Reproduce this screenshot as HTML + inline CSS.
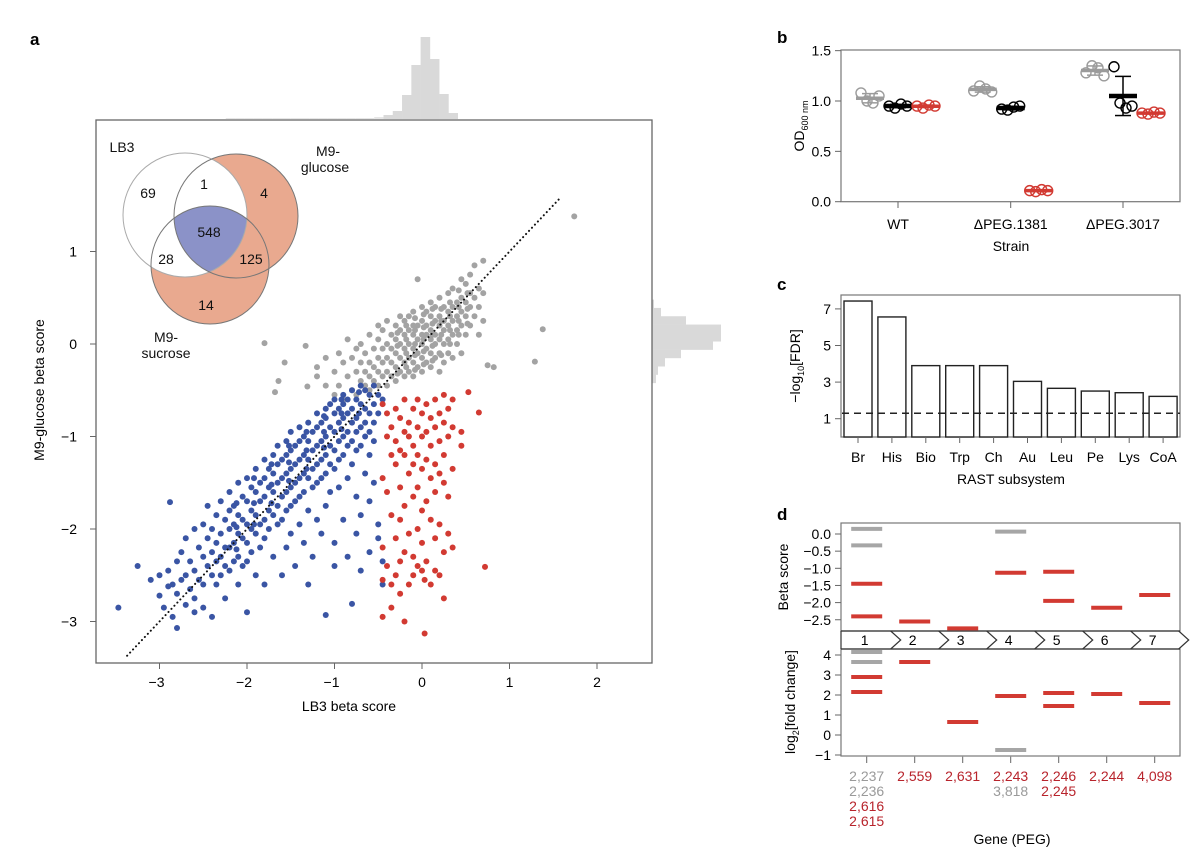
<!DOCTYPE html>
<html><head><meta charset="utf-8"><style>
html,body{margin:0;padding:0;background:#fff;}
svg{display:block;font-family:"Liberation Sans",Arial,sans-serif;}
</style></head><body>
<svg id="fig" width="1200" height="865" viewBox="0 0 1200 865" xmlns="http://www.w3.org/2000/svg">
<defs>
<clipPath id="clipLB"><circle cx="185" cy="215" r="62"/></clipPath>
<clipPath id="clipGl"><circle cx="236" cy="216" r="62"/></clipPath>
<clipPath id="clipFrame"><rect x="96" y="120" width="556" height="543"/></clipPath>
</defs>
<rect x="0" y="0" width="1200" height="865" fill="#fff"/>
<!-- Panel a -->
<text x="30" y="45" font-size="17" font-weight="bold">a</text>
<g id="topHist"></g>
<g id="rightHist"></g>
<rect x="96" y="120" width="556" height="543" fill="none" stroke="#666" stroke-width="1.3"/>
<g id="mainAxes"></g>
<g>
<circle cx="236" cy="216" r="62" fill="#e9a98f"/>
<circle cx="210" cy="265" r="59" fill="#e9a98f"/>
<circle cx="185" cy="215" r="62" fill="#fff"/>
<g clip-path="url(#clipGl)"><circle cx="210" cy="265" r="59" fill="#8b92c8" clip-path="url(#clipLB)"/></g>
<circle cx="185" cy="215" r="62" fill="none" stroke="#aaa" stroke-width="1"/>
<circle cx="236" cy="216" r="62" fill="none" stroke="#777" stroke-width="1"/>
<circle cx="210" cy="265" r="59" fill="none" stroke="#777" stroke-width="1"/>
<g font-size="14" fill="#111" text-anchor="middle">
<text x="122" y="152">LB3</text>
<text x="328" y="156">M9-</text>
<text x="325" y="172">glucose</text>
<text x="148" y="198">69</text>
<text x="204" y="189">1</text>
<text x="264" y="198">4</text>
<text x="209" y="237">548</text>
<text x="166" y="264">28</text>
<text x="251" y="264">125</text>
<text x="206" y="310">14</text>
<text x="166" y="342">M9-</text>
<text x="166" y="358">sucrose</text>
</g>
</g>
<g id="scatter"></g>
<text x="349" y="711" font-size="14" text-anchor="middle">LB3 beta score</text>
<text transform="translate(44,390) rotate(-90)" font-size="14" text-anchor="middle">M9-glucose beta score</text>

<!-- Panel b -->
<text x="777" y="43" font-size="17" font-weight="bold">b</text>
<rect x="841" y="50" width="339" height="151.7" fill="none" stroke="#777" stroke-width="1.2"/>
<g id="panelB"></g>
<text transform="translate(804,126) rotate(-90)" font-size="14" text-anchor="middle">OD<tspan font-size="9" dy="4">600 nm</tspan></text>
<text x="1011" y="251" font-size="14" text-anchor="middle">Strain</text>

<!-- Panel c -->
<text x="777" y="290" font-size="17" font-weight="bold">c</text>
<rect x="841" y="295" width="339" height="142" fill="none" stroke="#777" stroke-width="1.2"/>
<g id="panelC"></g>
<text transform="translate(800,366) rotate(-90)" font-size="14" text-anchor="middle">−log<tspan font-size="9" dy="4">10</tspan><tspan dy="-4">[FDR]</tspan></text>
<text x="1011" y="484" font-size="14" text-anchor="middle">RAST subsystem</text>

<!-- Panel d -->
<text x="777" y="520" font-size="17" font-weight="bold">d</text>
<rect x="841" y="523" width="339" height="108" fill="none" stroke="#777" stroke-width="1.2"/>
<rect x="841" y="649" width="339" height="107" fill="none" stroke="#777" stroke-width="1.2"/>
<g id="panelD"></g>
<text transform="translate(788,577) rotate(-90)" font-size="14" text-anchor="middle">Beta score</text>
<text transform="translate(795,702) rotate(-90)" font-size="14" text-anchor="middle">log<tspan font-size="9" dy="4">2</tspan><tspan dy="-4">[fold change]</tspan></text>
<text x="1012" y="844" font-size="14" text-anchor="middle">Gene (PEG)</text>
</svg>
<script>
// ---------- Panel a data ----------
const xTicks=[-3,-2,-1,0,1,2];
const yTicks=[1,0,-1,-2,-3];
const topHistStart=-0.44;
const topHistCounts=[4,8,24,54,82,60,25,6];
const topTailCounts=[1,1,1,1,1,1,1,1,1,1,1,1,1,1,1,1,2];
const rightHistStart=0.48;
const rightHistCounts=[2,9,34,69,69,61,29,13,6,4];
const grayCols=[[-1.8,[0.01]],[-1.68,[-0.52]],[-1.64,[-0.40]],[-1.57,[-0.20]],[-1.33,[-0.02]],[-1.31,[-0.46]],
[-1.2,[-0.25,-0.35]],[-1.1,[-0.45,-0.15]],[-1.0,[-0.55,-0.3]],[-0.95,[-0.1,-0.45]],[-0.9,[-0.2,-0.6]],[-0.85,[-0.35,0.05]],
[-0.8,[-0.5,-0.15]],[-0.75,[-0.3,-0.05,-0.55]],[-0.7,[-0.4,-0.2,0.0]],[-0.65,[-0.45,-0.3,-0.1]],[-0.6,[-0.5,-0.35,-0.2,0.1]],
[-0.55,[-0.4,-0.25,-0.05]],[-0.5,[-0.45,-0.3,-0.15,0.05,0.2]],[-0.45,[-0.35,-0.2,-0.05,0.15]],[-0.4,[-0.45,-0.3,-0.15,0.0,0.25]],
[-0.35,[-0.35,-0.2,-0.05,0.1]],[-0.3,[-0.4,-0.25,-0.1,0.05,0.2]],[-0.25,[-0.3,-0.15,0.0,0.15,0.3]],[-0.2,[-0.35,-0.2,-0.05,0.1,0.25]],
[-0.15,[-0.3,-0.15,0.0,0.15,0.3]],[-0.1,[-0.35,-0.2,-0.05,0.1,0.2,0.35]],[-0.05,[-0.25,-0.1,0.05,0.2,0.7]],[0.0,[-0.3,-0.15,0.0,0.1,0.25,0.4]],
[0.05,[-0.2,-0.05,0.1,0.2,0.35]],[0.1,[-0.25,-0.1,0.05,0.15,0.3,0.45]],[0.15,[-0.15,0.0,0.1,0.25,0.4]],[0.2,[-0.3,-0.1,0.05,0.2,0.3,0.5]],
[0.25,[-0.2,0.0,0.15,0.25,0.4]],[0.3,[-0.1,0.05,0.2,0.35,0.55]],[0.35,[-0.15,0.1,0.25,0.4,0.6]],[0.4,[0.0,0.15,0.3,0.45]],
[0.45,[-0.1,0.2,0.35,0.5,0.7]],[0.5,[0.1,0.3,0.45,0.65]],[0.55,[0.2,0.4,0.55,0.75]],[0.6,[0.3,0.5,0.85]],[0.65,[0.1,0.4,0.6]],
[0.7,[0.25,0.55,0.9]],[0.75,[-0.23]],[0.82,[-0.25]],[1.29,[-0.19]],[1.38,[0.16]],[1.74,[1.38]],
[-0.28,[-0.32,-0.02,0.12]],[-0.18,[-0.25,-0.1,0.05,0.2]],[-0.08,[-0.28,-0.12,0.0,0.15,0.28]],[0.02,[-0.22,-0.08,0.05,0.18,0.32]],
[0.12,[-0.18,-0.02,0.1,0.22,0.38]],[0.22,[-0.12,0.1,0.25,0.38]],[0.32,[0.0,0.15,0.3,0.45]],[0.42,[0.1,0.25,0.4,0.58]],[0.52,[0.22,0.38,0.55]]];
const blueCols=[[-3.47,[-2.85]],[-3.25,[-2.4]],[-3.1,[-2.55]],[-3.0,[-2.72,-2.5]],[-2.95,[-2.85]],[-2.9,[-2.45,-2.62]],[-2.88,[-1.71]],
[-2.85,[-2.6,-2.95]],[-2.8,[-3.07,-2.35,-2.7]],[-2.75,[-2.55,-2.25]],[-2.7,[-2.5,-2.82,-2.1]],[-2.65,[-2.35,-2.65]],
[-2.6,[-2.0,-2.45,-2.75,-2.9]],[-2.55,[-2.2,-2.55]],[-2.5,[-1.95,-2.3,-2.6,-2.85]],[-2.45,[-2.1,-2.4,-1.75]],
[-2.4,[-2.0,-2.25,-2.5,-2.95]],[-2.35,[-1.85,-2.15,-2.35,-2.6]],[-2.3,[-1.7,-2.05,-2.3,-2.5]],[-2.25,[-1.9,-2.2,-2.4,-2.75]],
[-2.2,[-1.6,-1.8,-2.0,-2.2,-2.45]],[-2.15,[-1.75,-1.95,-2.15,-2.35]],[-2.1,[-1.5,-1.85,-2.05,-2.3,-2.6]],[-2.05,[-1.65,-1.9,-2.1,-2.4]],
[-2.0,[-1.45,-1.7,-1.95,-2.15,-2.35,-2.9]],[-1.95,[-1.55,-1.8,-2.0,-2.25]],[-1.9,[-1.35,-1.6,-1.85,-2.05,-2.5]],[-1.85,[-1.5,-1.7,-1.95,-2.2]],
[-1.8,[-1.25,-1.45,-1.65,-1.9,-2.1,-2.6]],[-1.75,[-1.35,-1.55,-1.8,-2.0]],[-1.7,[-1.2,-1.4,-1.6,-1.85,-2.3]],[-1.65,[-1.1,-1.3,-1.5,-1.75,-1.95]],
[-1.6,[-1.25,-1.45,-1.65,-1.9,-2.5]],[-1.55,[-1.05,-1.2,-1.4,-1.6,-1.8,-2.2]],[-1.5,[-0.95,-1.15,-1.35,-1.55,-1.75,-2.05]],
[-1.45,[-1.1,-1.3,-1.5,-1.7,-2.4]],[-1.4,[-0.9,-1.05,-1.25,-1.45,-1.65,-1.95]],[-1.35,[-1.0,-1.2,-1.4,-1.6,-2.15]],
[-1.3,[-0.85,-1.05,-1.25,-1.45,-1.8,-2.6]],[-1.25,[-0.95,-1.15,-1.35,-1.55,-2.3]],[-1.2,[-0.75,-0.9,-1.1,-1.3,-1.5,-1.9]],
[-1.15,[-0.85,-1.05,-1.25,-1.45,-2.05]],[-1.1,[-0.7,-0.8,-1.0,-1.2,-1.4,-1.75,-2.93]],[-1.05,[-0.65,-0.9,-1.1,-1.3,-1.6]],
[-1.0,[-0.6,-0.75,-0.95,-1.15,-1.35,-2.15,-2.4]],[-0.95,[-0.7,-0.85,-1.05,-1.25,-1.55]],[-0.9,[-0.55,-0.65,-0.8,-1.0,-1.2,-1.9]],
[-0.85,[-0.6,-0.75,-0.95,-1.1,-1.45,-2.3]],[-0.8,[-0.5,-0.7,-0.85,-1.05,-1.3,-2.81]],[-0.75,[-0.6,-0.8,-0.95,-1.15,-1.65,-2.05]],
[-0.7,[-0.45,-0.65,-0.9,-1.1,-1.85,-2.45]],[-0.65,[-0.5,-0.7,-0.85,-1.0,-1.4]],[-0.6,[-0.55,-0.75,-0.95,-1.2,-1.7,-2.25]],
[-0.55,[-0.45,-0.65,-0.85,-1.05,-1.5]],[-0.5,[-0.55,-0.75,-1.95,-2.1]],[-0.45,[-0.6,-2.35,-2.6]],
[-2.12,[-1.72,-1.98,-2.22]],[-1.92,[-1.45,-1.72,-1.95]],[-1.72,[-1.3,-1.52,-1.72]],[-1.52,[-1.1,-1.28,-1.48]],[-1.32,[-0.95,-1.15,-1.35]],
[-1.12,[-0.78,-0.95,-1.12]],[-0.92,[-0.6,-0.75,-0.92]],[-0.72,[-0.52,-0.75]]];
const redCols=[[-0.45,[-0.65,-1.45,-2.2,-2.55,-2.95]],[-0.4,[-0.75,-1.0,-1.6,-2.4]],[-0.35,[-0.9,-1.2,-1.85,-2.6,-2.85]],
[-0.3,[-0.7,-1.05,-1.3,-2.1,-2.5]],[-0.25,[-0.8,-1.15,-1.55,-1.9,-2.35,-2.7]],[-0.2,[-0.6,-0.95,-1.2,-1.75,-2.25,-3.0]],
[-0.15,[-0.85,-1.0,-1.4,-2.05,-2.6]],[-0.1,[-0.7,-1.1,-1.3,-1.65,-2.3,-2.5]],[-0.05,[-0.6,-0.9,-1.2,-1.55,-2.0,-2.4]],
[0.0,[-0.75,-1.0,-1.35,-1.8,-2.15,-2.45]],[0.03,[-3.13,-2.55]],[0.05,[-0.65,-0.95,-1.25,-1.7,-2.35]],[0.1,[-0.8,-1.1,-1.45,-1.9,-2.6]],
[0.15,[-0.6,-0.9,-1.3,-1.6,-2.1,-2.45]],[0.2,[-0.75,-1.05,-1.4,-1.95,-2.5]],[0.25,[-0.55,-0.85,-1.2,-1.5,-2.25,-2.75]],
[0.3,[-0.7,-1.0,-1.65,-2.05]],[0.35,[-0.6,-0.9,-1.35,-2.2]],[0.45,[-0.95,-1.1]],[0.53,[-0.52]],[0.65,[-0.74]],[0.72,[-2.41]]];
const diagRange=[-3.37,1.58];

// ---------- Panel b data ----------
const strainLabels=['WT','ΔPEG.1381','ΔPEG.3017'];
const bTicks=[0,0.5,1.0,1.5];
const grayReps=[[1.08,1.0,0.98,1.05],[1.1,1.15,1.12,1.09],[1.28,1.35,1.33,1.25]];
const blackReps=[[0.95,0.93,0.97,0.95],[0.92,0.91,0.94,0.95],[1.34,0.98,0.93,0.95]];
const redReps=[[0.95,0.93,0.96,0.95],[0.11,0.10,0.12,0.11],[0.88,0.87,0.89,0.88]];

// ---------- Panel c data ----------
const subsystems=['Br','His','Bio','Trp','Ch','Au','Leu','Pe','Lys','CoA'];
const fdrValues=[7.43,6.56,3.9,3.9,3.9,3.04,2.66,2.51,2.42,2.22];
const fdrThreshold=1.3;
const cTicks=[1,3,5,7];

// ---------- Panel d data ----------
const operons=['1','2','3','4','5','6','7'];
const betaGray=[[0.15,-0.33],[],[],[0.07],[],[],[]];
const betaRed=[[-1.45,-2.4],[-2.55],[-2.75],[-1.13],[-1.1,-1.95],[-2.15],[-1.78]];
const lfcGray=[[4.15,3.65],[],[],[-0.75],[],[],[]];
const lfcRed=[[2.9,2.15],[3.65],[0.65],[1.95],[2.1,1.45],[2.05],[1.6]];
const dTopTicks=[0,-0.5,-1,-1.5,-2,-2.5];
const dTopTickLabels=['0.0','−0.5','−1.0','−1.5','−2.0','−2.5'];
const dBotTicks=[4,3,2,1,0,-1];
const geneGray=[['2,237','2,236'],[],[],[],[],[],[]];
const geneRed=[['2,616','2,615'],['2,559'],['2,631'],['2,243'],['2,246','2,245'],['2,244'],['4,098']];
const geneGrayAfterRed=[[],[],[],['3,818'],[],[],[]];

const NS='http://www.w3.org/2000/svg';
function mk(tag,parent,attrs){const e=document.createElementNS(NS,tag);for(const k in attrs)e.setAttribute(k,attrs[k]);parent.appendChild(e);return e;}
function fmt(v){return v<0?'−'+Math.abs(v):String(v);}

// ---- Panel a ----
const sx=v=>422+v*87.5, sy=v=>344-v*92.5;
const topG=document.getElementById('topHist');
const tbw=0.106;
topTailCounts.forEach((c,i)=>{const x0=topHistStart-(topTailCounts.length-i)*tbw;
 const r=mk('rect',topG,{x:sx(x0),y:119-c,width:tbw*87.5,height:c,fill:'#e6e6e6'});
 
 });
topHistCounts.forEach((c,i)=>{const x0=topHistStart+i*tbw;
 const r=mk('rect',topG,{x:sx(x0),y:119-c,width:tbw*87.5+0.3,height:c,fill:'#d9d9d9'});
 
 });
const rightG=document.getElementById('rightHist');
const rbw=0.09;
rightHistCounts.forEach((c,i)=>{const y0=rightHistStart-i*rbw;
 const r=mk('rect',rightG,{x:652,y:sy(y0),width:c,height:rbw*92.5+0.3,fill:'#d9d9d9'});
 
 });
const ax=document.getElementById('mainAxes');
xTicks.forEach(t=>{const l=mk('line',ax,{x1:sx(t),x2:sx(t),y1:663,y2:669,stroke:'#666'});
 
 
 const tx=mk('text',ax,{x:sx(t)-(t<0?3:0),y:687,'font-size':14,'text-anchor':'middle'});tx.textContent=fmt(t);
 
 });
yTicks.forEach(t=>{const l=mk('line',ax,{x1:90,x2:96,y1:sy(t),y2:sy(t),stroke:'#666'});
 
 
 const tx=mk('text',ax,{x:77,y:sy(t)+5,'font-size':14,'text-anchor':'end'});tx.textContent=fmt(t);
 
 });
const sc=document.getElementById('scatter');
sc.setAttribute('clip-path','url(#clipFrame)');
function drawCols(cols,color,name){cols.forEach(([x,ys])=>ys.forEach(y=>{
 const c=mk('circle',sc,{cx:sx(x),cy:sy(y),r:3,fill:color});
 
 }));}
drawCols(grayCols,'#a3a3a3','gray-point');
drawCols(blueCols,'#3a55a4','blue-point');
drawCols(redCols,'#d23a32','red-point');
const diag=mk('line',sc,{x1:sx(diagRange[0]),y1:sy(diagRange[0]),x2:sx(diagRange[1]),y2:sy(diagRange[1]),stroke:'#111','stroke-width':2,'stroke-dasharray':'0.1 4.2','stroke-linecap':'round'});



// ---- Panel b ----
const bx=[898,1010.7,1123], off=[-28,0,28], yB=v=>201.7-v*100.7;
const pB=document.getElementById('panelB');
bTicks.forEach(t=>{const l=mk('line',pB,{x1:835,x2:841,y1:yB(t),y2:yB(t),stroke:'#666'});
 
 
 const tx=mk('text',pB,{x:831,y:yB(t)+5,'font-size':14,'text-anchor':'end'});tx.textContent=t.toFixed(1);
 
 });
strainLabels.forEach((s,i)=>{const l=mk('line',pB,{x1:bx[i],x2:bx[i],y1:201.7,y2:208,stroke:'#666'});
 
 
 const tx=mk('text',pB,{x:bx[i],y:229,'font-size':14,'text-anchor':'middle'});tx.textContent=s;
 
 });
const cOff=[-9,-3,3,9];
[[grayReps,'#9b9b9b',3.5],[blackReps,'#000',4.5],[redReps,'#d23a32',3.5]].forEach(([reps,col,th],k)=>{
 reps.forEach((r,i)=>{const cx=bx[i]+off[k];
  const m=r.reduce((a,b)=>a+b,0)/r.length;
  const sd=Math.sqrt(r.reduce((a,b)=>a+(b-m)*(b-m),0)/(r.length-1));
  const e=mk('line',pB,{x1:cx,x2:cx,y1:yB(m-sd),y2:yB(m+sd),stroke:col,'stroke-width':1.5});
  
  
  [m-sd,m+sd].forEach(v=>{const cap=mk('line',pB,{x1:cx-8,x2:cx+8,y1:yB(v),y2:yB(v),stroke:col,'stroke-width':1.5});
   
   });
  r.forEach((v,j)=>{const c=mk('circle',pB,{cx:cx+cOff[j],cy:yB(v),r:5,fill:'none',stroke:col,'stroke-width':1.4});
   
   });
  const mb=mk('line',pB,{x1:cx-14,x2:cx+14,y1:yB(m),y2:yB(m),stroke:col,'stroke-width':th});
  
  
 });});

// ---- Panel c ----
const yC=v=>437-v*18.3, cx0=858, cdx=33.9;
const pC=document.getElementById('panelC');
cTicks.forEach(t=>{const l=mk('line',pC,{x1:835,x2:841,y1:yC(t),y2:yC(t),stroke:'#666'});
 
 
 const tx=mk('text',pC,{x:831,y:yC(t)+5,'font-size':14,'text-anchor':'end'});tx.textContent=t;
 
 });
subsystems.forEach((s,i)=>{const cx=cx0+i*cdx;
 const b=mk('rect',pC,{x:cx-14,y:yC(fdrValues[i]),width:28,height:yC(0)-yC(fdrValues[i]),fill:'#fff',stroke:'#222','stroke-width':1.4});
 
 
 const l=mk('line',pC,{x1:cx,x2:cx,y1:437,y2:443,stroke:'#666'});
 
 
 const tx=mk('text',pC,{x:cx,y:462,'font-size':14,'text-anchor':'middle'});tx.textContent=s;
 
 });
const th=mk('line',pC,{x1:842,x2:1180,y1:yC(fdrThreshold),y2:yC(fdrThreshold),stroke:'#222','stroke-width':1.5,'stroke-dasharray':'7 5'});



// ---- Panel d ----
const yD1=v=>534-v*34.3, yD2=v=>735-v*20, dx0=866.7, ddx=48;
const pD=document.getElementById('panelD');
dTopTicks.forEach((t,i)=>{const l=mk('line',pD,{x1:835,x2:841,y1:yD1(t),y2:yD1(t),stroke:'#666'});
 
 
 const tx=mk('text',pD,{x:831,y:yD1(t)+5,'font-size':14,'text-anchor':'end'});tx.textContent=dTopTickLabels[i];
 
 });
dBotTicks.forEach(t=>{const l=mk('line',pD,{x1:835,x2:841,y1:yD2(t),y2:yD2(t),stroke:'#666'});
 
 
 const tx=mk('text',pD,{x:831,y:yD2(t)+5,'font-size':14,'text-anchor':'end'});tx.textContent=fmt(t);
 
 });
const band=mk('path',pD,{d:'M841,631 H1180 M841,649 H1180 M841,631 V649',stroke:'#333','stroke-width':1.2,fill:'none'});


operons.forEach((o,i)=>{const cx=dx0+i*ddx; const xe=cx+24;
 const ch=mk('polyline',pD,{points:`${xe},631 ${xe+10},640 ${xe},649`,fill:'none',stroke:'#333','stroke-width':1.2});
 
 
 const tx=mk('text',pD,{x:cx-2,y:645,'font-size':14,'text-anchor':'middle'});tx.textContent=o;
 
 
 const tk=mk('line',pD,{x1:cx,x2:cx,y1:756.7,y2:763,stroke:'#666'});
 
 
 const seg=(y,col,name)=>{const l=mk('line',pD,{x1:cx-15.5,x2:cx+15.5,y1:y,y2:y,stroke:col,'stroke-width':4});
  
  };
 betaGray[i].forEach(v=>seg(yD1(v),'#a6a6a6','beta-gray-mark'));
 betaRed[i].forEach(v=>seg(yD1(v),'#d23a32','beta-red-mark'));
 lfcGray[i].forEach(v=>seg(yD2(v),'#a6a6a6','lfc-gray-mark'));
 lfcRed[i].forEach(v=>seg(yD2(v),'#d23a32','lfc-red-mark'));
 const labs=[...geneGray[i].map(t=>[t,'#9a9a9a']),...geneRed[i].map(t=>[t,'#b8242c']),...geneGrayAfterRed[i].map(t=>[t,'#9a9a9a'])];
 labs.forEach(([t,col],j)=>{const g=mk('text',pD,{x:cx,y:781+j*15,'font-size':14,'text-anchor':'middle',fill:col});g.textContent=t;
  
  });
});
</script>
</body></html>
